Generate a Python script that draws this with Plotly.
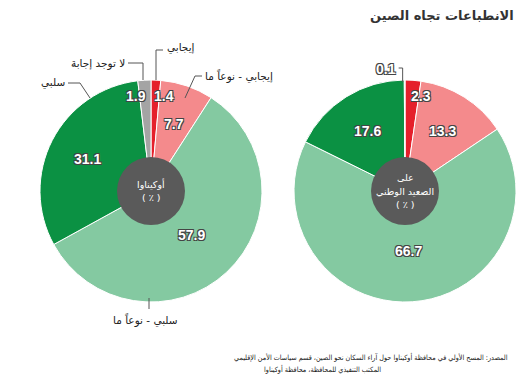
import math
import plotly.graph_objects as go

W, H = 520, 381

# ---------------- data ----------------
categories = ["إيجابي", "إيجابي - نوعاً ما", "سلبي - نوعاً ما", "سلبي", "لا توجد إجابة"]
okinawa_values = [1.4, 7.7, 57.9, 31.1, 1.9]
national_values = [2.3, 13.3, 66.7, 17.6, 0.1]
center_labels = [["أوكيناوا", "( ٪ )"], ["على", "الصعيد الوطني", "( ٪ )"]]
title_text = "الانطباعات تجاه الصين"
source_lines = ["المصدر: المسح الأولي في محافظة أوكيناوا حول آراء السكان نحو الصين، قسم سياسات الأمن الإقليمي",
                "المكتب التنفيذي للمحافظة، محافظة أوكيناوا"]

# ---------------- styles ----------------
colors = ["#e5202b", "#f48a8c", "#84c9a1", "#0b9143", "#a4a4a4"]
hole_color = "#5a5a5a"
FONT = "DejaVu Sans, Liberation Sans, sans-serif"
SMALLFONT = "DejaVu Sans Condensed, DejaVu Sans, sans-serif"
NUMFONT = "Liberation Sans, Arial, sans-serif"
outline = "1px 1px 0 #444, -1px -1px 0 #444, 1px -1px 0 #444, -1px 1px 0 #444"

# pie geometry in pixels (layout)
pies = [
    dict(values=okinawa_values, cx=151, cy=191, r=111, label=center_labels[0]),
    dict(values=national_values, cx=405, cy=191, r=111, label=center_labels[1]),
]
HOLE_R = 34
LINE_H = 13.5


def px(x):
    return x / W


def py(y):
    return 1 - y / H


fig = go.Figure()
annotations = []
shapes = []

for p in pies:
    cx, cy, r = p["cx"], p["cy"], p["r"]
    fig.add_trace(go.Pie(
        values=p["values"], labels=categories, sort=False, direction="clockwise",
        rotation=0, marker=dict(colors=colors, line=dict(color="white", width=1)),
        textinfo="none", hoverinfo="label+value", showlegend=False,
        domain=dict(x=[px(cx - r), px(cx + r)], y=[py(cy + r), py(cy - r)]),
    ))
    # dark centre disc
    shapes.append(dict(
        type="circle", xref="paper", yref="paper",
        x0=px(cx - HOLE_R), x1=px(cx + HOLE_R), y0=py(cy + HOLE_R), y1=py(cy - HOLE_R),
        fillcolor=hole_color, line=dict(width=0), layer="above",
    ))
    # centre text, one annotation per line (keeps RTL lines centred)
    n = len(p["label"])
    for i, line in enumerate(p["label"]):
        yy = cy + (i - (n - 1) / 2) * LINE_H
        annotations.append(dict(
            x=px(cx), y=py(yy), xref="paper", yref="paper", showarrow=False,
            xanchor="center", yanchor="middle", text=line,
            font=dict(family=FONT, size=9.5, color="white"),
        ))
    # value labels computed from cumulative shares
    total = sum(p["values"])
    cum = 0
    for v in p["values"]:
        mid = (cum + v / 2) / total * 2 * math.pi
        cum += v
        s, c = math.sin(mid), math.cos(mid)
        nf = dict(family=NUMFONT, size=14, color="white", weight="bold", shadow=outline)
        if v < 0.5:
            # tiny slice: label outside with leader line
            ex, ey = cx + r * s, cy - r * c
            annotations.append(dict(
                x=px(ex - 7), y=py(ey - 11), xref="paper", yref="paper", showarrow=False,
                xanchor="right", yanchor="middle", text=f"{v}", font=nf,
            ))
            shapes.append(dict(
                type="path", xref="paper", yref="paper",
                path=f"M {px(ex - 6)},{py(ey - 12)} L {px(ex - 2)},{py(ey - 12)} L {px(ex - 2)},{py(ey + 2)}",
                line=dict(color="#555", width=1),
            ))
        elif v < 3:
            rr = 0.855 * r
            right = s > 0.02
            annotations.append(dict(
                x=px(cx + rr * s), y=py(cy - rr * c), xref="paper", yref="paper", showarrow=False,
                xanchor="left" if right else "right", xshift=-3 if right else 3,
                yanchor="middle", text=f"{v}", font=nf,
            ))
        else:
            rr = (0.54 if v > 40 else 0.64) * r
            annotations.append(dict(
                x=px(cx + rr * s), y=py(cy - rr * c), xref="paper", yref="paper", showarrow=False,
                xanchor="center", yanchor="middle", text=f"{v}", font=nf,
            ))

# category call-outs for the Okinawa pie (label anchor, leader path in px)
callouts = [
    (categories[0], 165, 47, "left", [(163, 50), (156, 50), (156, 80)]),
    (categories[1], 203, 76, "left", [(202, 76), (195, 76), (185, 98)]),
    (categories[2], 145, 320, "center", [(149, 298), (149, 309)]),
    (categories[3], 67, 82, "right", [(68, 83), (80, 83), (90, 98)]),
    (categories[4], 127, 63, "right", [(128, 63), (143, 63), (143, 80)]),
]
for text, lx, ly, anchor, pts in callouts:
    annotations.append(dict(
        x=px(lx), y=py(ly), xref="paper", yref="paper", showarrow=False,
        xanchor=anchor, yanchor="middle", text=text,
        font=dict(family=FONT, size=10.5, color="#222"),
    ))
    path = "M " + " L ".join(f"{px(x)},{py(y)}" for x, y in pts)
    shapes.append(dict(type="path", xref="paper", yref="paper", path=path,
                       line=dict(color="#555", width=1)))

# title and source
annotations.append(dict(
    x=px(516), y=py(15), xref="paper", yref="paper", showarrow=False,
    xanchor="right", yanchor="middle", text=title_text,
    font=dict(family=FONT, size=13, color="#333", weight="bold"),
))
annotations.append(dict(
    x=px(510), y=py(357), xref="paper", yref="paper", showarrow=False,
    xanchor="right", yanchor="middle", text=source_lines[0],
    font=dict(family=SMALLFONT, size=7.2, color="#222"),
))
annotations.append(dict(
    x=px(262), y=py(369), xref="paper", yref="paper", showarrow=False,
    xanchor="left", yanchor="middle", text=source_lines[1],
    font=dict(family=SMALLFONT, size=7.2, color="#222"),
))

fig.update_layout(
    width=W, height=H, margin=dict(l=0, r=0, t=0, b=0),
    paper_bgcolor="white", plot_bgcolor="white",
    annotations=annotations, shapes=shapes,
)

fig.write_html("out.html", config={"displayModeBar": False},
               post_script="document.body.style.margin='0';")
